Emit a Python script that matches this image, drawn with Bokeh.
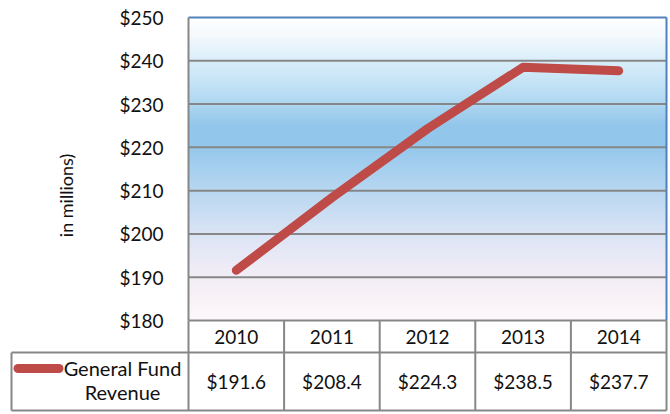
import numpy as np
from bokeh.plotting import figure
from bokeh.models import Range1d, FixedTicker, NumeralTickFormatter
from bokeh.core.properties import value
from bokeh.embed import file_html
from bokeh.resources import INLINE

# ---- data ----
years = ["2010", "2011", "2012", "2013", "2014"]
revenue = [191.6, 208.4, 224.3, 238.5, 237.7]
value_labels = ["$191.6", "$208.4", "$224.3", "$238.5", "$237.7"]
y_ticks = [180, 190, 200, 210, 220, 230, 240, 250]
series_name = ["General Fund\nRevenue"]
y_title = ["in millions)"]

FONT = "Lato"
TXT = "#111111"
GRID = "#878787"
BLUE = "#4F81BD"
RED = "#BE4B48"

n = len(years)
xc = [i + 0.5 for i in range(n)]
y0, y1 = y_ticks[0], y_ticks[-1]

# layout helpers: chart frame 188..666 px wide (5 columns), 17..320 px tall
UX = 478.0 / n                     # px per column
KY = (y1 - y0) / 303.0             # data units per px vertically
def ypx(py):
    return y1 - (py - 17) * KY
def xpx(px):
    return (px - 188) / UX

p = figure(width=670, height=414,
           x_range=Range1d(xpx(9), xpx(668)), y_range=Range1d(ypx(412), ypx(2)),
           x_axis_type=None, output_backend="svg", toolbar_location=None,
           min_border_left=9, min_border_right=2, min_border_top=2, min_border_bottom=2)
p.outline_line_color = None
p.background_fill_color = "white"
p.border_fill_color = "white"
p.ygrid.visible = False

# vertical background gradient (style only)
stops = [
    (250, "#FFFFFF"), (246, "#F6FAFD"), (241.5, "#E0F1FB"), (237, "#CDE8F8"),
    (230, "#AED7F1"), (225, "#93C7EB"), (221, "#92C7EB"), (215, "#A7D0EF"),
    (208, "#C0DAF2"), (201, "#D7E3F5"), (196, "#E6E8F6"), (190, "#F3EEF6"),
    (185, "#F9F2F7"), (180, "#FDF9FB"),
]
sv = np.array([s[0] for s in stops][::-1], dtype=float)
cols = np.array([[int(s[1][k:k + 2], 16) for k in (1, 3, 5)] for s in stops][::-1], dtype=float)
N = 300
ys = np.linspace(y0, y1, N)
img = np.empty((N, 1), dtype=np.uint32)
view = img.view(dtype=np.uint8).reshape((N, 1, 4))
for c in range(3):
    view[:, 0, c] = np.interp(ys, sv, cols[:, c]).astype(np.uint8)
view[:, 0, 3] = 255
p.image_rgba(image=[img], x=0, y=y0, dw=n, dh=y1 - y0, level="image")

# horizontal gridlines (gray) and top/right border (blue)
gl = y_ticks[:-1]
p.segment(x0=[0] * len(gl), y0=gl, x1=[n] * len(gl), y1=gl, line_color=GRID, line_width=2)
p.segment(x0=[0, n], y0=[y1, y1], x1=[n, n], y1=[y1, y0], line_color=BLUE, line_width=2)

# y axis at the chart's left edge
ax = p.yaxis[0]
ax.fixed_location = 0
ax.bounds = (y0, y1)
ax.ticker = FixedTicker(ticks=y_ticks)
ax.formatter = NumeralTickFormatter(format="$0")
ax.major_tick_in = 0
ax.major_tick_out = 0
ax.minor_tick_line_color = None
ax.major_label_standoff = 25
ax.major_label_text_font = FONT
ax.major_label_text_font_size = "19px"
ax.major_label_text_color = TXT
ax.axis_line_color = GRID
ax.axis_line_width = 2

p.text(x=[xpx(65)], y=[ypx(195)], text=y_title, angle=np.pi / 2,
       text_align="center", text_baseline="middle",
       text_font=value(FONT), text_font_size="18px", text_color=TXT)

# series line
p.line(xc, revenue, line_color=RED, line_width=9, line_cap="round", line_join="round")

# ---- data table ----
LEG_L = xpx(11)
R0, R1, R2 = ypx(320), ypx(352), ypx(410)
edges = list(range(n + 1))
p.segment(x0=edges, y0=[R0] * (n + 1), x1=edges, y1=[R2] * (n + 1), line_color=GRID, line_width=2)
p.segment(x0=[LEG_L, LEG_L, LEG_L], y0=[R1, R2, R1], x1=[n, n, LEG_L], y1=[R1, R2, R2],
          line_color=GRID, line_width=2)

p.text(x=xc, y=[ypx(336)] * n, text=years, text_align="center", text_baseline="middle",
       text_font=value(FONT), text_font_size="19px", text_color=TXT)
p.text(x=xc, y=[ypx(381)] * n, text=value_labels, text_align="center", text_baseline="middle",
       text_font=value(FONT), text_font_size="19px", text_color=TXT)

p.segment(x0=[xpx(17.5)], y0=[ypx(368)], x1=[xpx(58.5)], y1=[ypx(368)],
          line_color=RED, line_width=9, line_cap="round")
p.text(x=[xpx(122)], y=[ypx(379.5)], text=series_name, text_align="center",
       text_baseline="middle", text_line_height=1.03,
       text_font=value(FONT), text_font_size="20px", text_color=TXT)

open("out.html", "w").write(file_html(p, INLINE))
